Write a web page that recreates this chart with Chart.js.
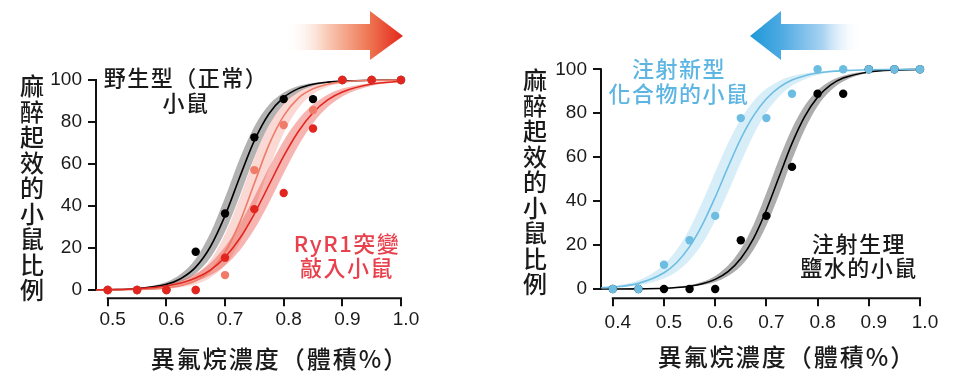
<!DOCTYPE html>
<html><head><meta charset="utf-8">
<script src="https://cdn.jsdelivr.net/npm/chart.js@4"></script>
<style>
html,body{margin:0;padding:0;background:#fff;}
#wrap{position:relative;width:970px;height:386px;overflow:hidden;background:#fff;}
canvas{position:absolute;top:0;}
.t{position:absolute;font-family:"Noto Sans CJK TC","Noto Sans CJK SC",sans-serif;font-weight:500;white-space:nowrap;}
.ytitle{font-size:24px;line-height:25.5px;width:24px;white-space:normal;word-break:break-all;color:#1a1a1a;}
.xtitle{font-size:24px;line-height:28px;letter-spacing:2px;color:#1a1a1a;transform:translateX(-50%);}
.ann{font-size:22px;line-height:24px;letter-spacing:1.5px;text-align:center;transform:translateX(-50%);}
svg{position:absolute;left:0;top:0;}
</style></head>
<body>
<div id="wrap">
<canvas id="left" width="485" height="386" style="left:0"></canvas>
<canvas id="right" width="485" height="386" style="left:485px"></canvas>
<svg width="970" height="386">
<defs>
<linearGradient id="gr" gradientUnits="userSpaceOnUse" x1="285" y1="0" x2="403" y2="0">
<stop offset="0" stop-color="#ffffff" stop-opacity="0"/>
<stop offset="0.35" stop-color="#f9cbb8"/>
<stop offset="0.72" stop-color="#ee7450"/>
<stop offset="1" stop-color="#e3261b"/>
</linearGradient>
<linearGradient id="gb" gradientUnits="userSpaceOnUse" x1="750" y1="0" x2="862" y2="0">
<stop offset="0" stop-color="#1e98d8"/>
<stop offset="0.28" stop-color="#4eaae2"/>
<stop offset="0.65" stop-color="#a9d3f1"/>
<stop offset="1" stop-color="#ffffff" stop-opacity="0"/>
</linearGradient>
</defs>
<polygon points="285,24 370,24 370,11 403,36 370,60 370,50 285,50" fill="url(#gr)"/>
<polygon points="862,24 781,24 781,11 750,36 781,60 781,50 862,50" fill="url(#gb)"/>
</svg>
<div class="t ytitle" style="left:20px;top:72px">麻醉起效的小鼠比例</div>
<div class="t ytitle" style="left:523px;top:66px">麻醉起效的小鼠比例</div>
<div class="t xtitle" style="left:280px;top:344px">異氟烷濃度（體積%）</div>
<div class="t xtitle" style="left:787px;top:342px">異氟烷濃度（體積%）</div>
<div class="t ann" style="left:186px;top:64px;line-height:25px;color:#1a1a1a">野生型（正常）<br>小鼠</div>
<div class="t ann" style="left:347px;top:231px;line-height:23.5px;color:#e8404c">RyR1突變<br>敲入小鼠</div>
<div class="t ann" style="left:679px;top:55px;line-height:25px;color:#5cb5e2">注射新型<br>化合物的小鼠</div>
<div class="t ann" style="left:859px;top:230px;line-height:24px;color:#1a1a1a">注射生理<br>鹽水的小鼠</div>
</div>
<script>
// ---------- Left panel data ----------
const leftDoses = [0.5, 0.55, 0.6, 0.65, 0.7, 0.75, 0.8, 0.85, 0.9, 0.95, 1.0];
const wildType = [0, 0, 0, 18.2, 36.4, 72.7, 90.9, 90.9, 100, 100, 100];
const ryr1Light = [0, 0, 0, 0, 7.1, 57.1, 78.6, 85.7, 100, 100, 100];
const ryr1Dark = [0, 0, 0, 0, 15.4, 38.5, 46.2, 76.9, 100, 100, 100];
const leftFitX = [0.48, 0.5, 0.55, 0.6, 0.625, 0.65, 0.675, 0.7, 0.725, 0.75, 0.775, 0.8, 0.825, 0.85, 0.875, 0.9, 0.95, 1.0];
const wtFit = [0.07, 0.14, 0.6, 2.7, 5.5, 10.9, 20.6, 35.4, 53.7, 71.1, 83.9, 91.7, 95.9, 98.0, 99.0, 99.5, 99.9, 100];
const wtHi = [0.11, 0.19, 0.87, 3.8, 7.7, 14.9, 27.1, 44, 62.5, 77.9, 88.2, 94.0, 97.1, 98.6, 99.3, 99.7, 99.9, 100];
const wtLo = [0.05, 0.09, 0.42, 1.9, 3.9, 7.9, 15.3, 27.7, 44.8, 63.2, 78.4, 88.5, 94.2, 97.2, 98.7, 99.4, 99.9, 100];
const lightFit = [0.02, 0.04, 0.21, 1.0, 2.1, 4.4, 9.2, 18, 32.2, 50.8, 69.2, 82.9, 91.4, 95.8, 98.0, 99.1, 99.8, 100];
const lightHi = [0.04, 0.07, 0.34, 1.6, 3.4, 7.1, 14.2, 26.5, 43.8, 62.9, 78.6, 88.9, 94.5, 97.4, 98.8, 99.5, 99.9, 100];
const lightLo = [0.01, 0.03, 0.13, 0.6, 1.3, 2.7, 5.8, 11.8, 22.4, 38.6, 57.7, 74.7, 86.5, 93.3, 96.8, 98.5, 99.7, 100];
const darkFit = [0.13, 0.2, 0.63, 1.9, 3.3, 5.7, 9.5, 15.6, 24.5, 36.3, 50, 63.7, 75.5, 84.4, 90.5, 94.3, 98.1, 99.4];
const darkHi = [0.18, 0.29, 0.88, 2.7, 4.6, 7.8, 12.9, 20.6, 31.3, 44.4, 58.4, 71.1, 81.2, 88.3, 93.0, 95.9, 98.6, 99.6];
const darkLo = [0.09, 0.15, 0.45, 1.4, 2.4, 4.1, 7.0, 11.7, 18.8, 28.9, 41.6, 55.6, 68.7, 79.4, 87.1, 92.2, 97.3, 99.1];
const leftXTicks = [0.5, 0.6, 0.7, 0.8, 0.9, 1.0];

// ---------- Right panel data ----------
const rightDoses = [0.4, 0.45, 0.5, 0.55, 0.6, 0.65, 0.7, 0.75, 0.8, 0.85, 0.9, 0.95, 1.0];
const compound = [0, 0, 11.1, 22.2, 33.3, 77.8, 77.8, 88.9, 100, 100, 100, 100, 100];
const saline = [0, 0, 0, 0, 0, 22.2, 33.3, 55.6, 88.9, 88.9, 100, 100, 100];
const rightFitX = [0.377, 0.4, 0.45, 0.5, 0.525, 0.55, 0.575, 0.6, 0.625, 0.65, 0.675, 0.7, 0.725, 0.75, 0.775, 0.8, 0.825, 0.85, 0.9, 0.95, 1.0];
const compFit = [0.57, 0.88, 2.6, 7.4, 12.1, 19.3, 29.3, 41.8, 55.5, 68.4, 78.9, 86.6, 91.8, 95.1, 97.1, 98.3, 99.0, 99.4, 99.8, 99.9, 100];
const compHi = [0.9, 1.4, 4.0, 11.2, 18, 27.5, 39.7, 53.3, 66.4, 77.4, 85.6, 91.1, 94.7, 96.9, 98.2, 98.9, 99.4, 99.6, 99.9, 100, 100];
const compLo = [0.36, 0.55, 1.6, 4.8, 8.0, 13.1, 20.7, 31.2, 44.0, 57.6, 70.2, 80.4, 87.6, 92.5, 95.5, 97.4, 98.5, 99.1, 99.7, 99.9, 100];
const salFit = [0.02, 0.03, 0.11, 0.38, 0.7, 1.3, 2.4, 4.4, 7.9, 13.9, 23.1, 36.0, 51.2, 66.3, 78.6, 87.3, 92.8, 96.0, 98.8, 99.7, 99.9];
const salHi = [0.03, 0.04, 0.15, 0.52, 1.0, 1.8, 3.3, 6.0, 10.7, 18.2, 29.4, 43.8, 59.3, 73.1, 83.5, 90.5, 94.7, 97.1, 99.1, 99.7, 99.9];
const salLo = [0.01, 0.02, 0.08, 0.27, 0.5, 0.95, 1.8, 3.2, 5.9, 10.4, 17.9, 28.9, 43.2, 58.7, 72.6, 83.2, 90.2, 94.5, 98.4, 99.5, 99.8];
const rightXTicks = [0.4, 0.5, 0.6, 0.7, 0.8, 0.9, 1.0];

const yTicks = [0, 20, 40, 60, 80, 100];

function pts(xs, ys) { return xs.map((x, i) => ({ x: x, y: ys[i] })); }

function pointSet(xs, ys, color, order) {
  return { data: pts(xs, ys), showLine: false, pointRadius: 4.2, pointBackgroundColor: color,
    pointBorderWidth: 0, borderColor: color, order: order, clip: false, fill: false };
}
function lineSet(xs, ys, color, order) {
  return { data: pts(xs, ys), borderColor: color, borderWidth: 1.6, pointRadius: 0,
    cubicInterpolationMode: 'monotone', order: order, clip: false, fill: false };
}
function bandSets(xs, hi, lo, color, order) {
  return [
    { data: pts(xs, hi), borderWidth: 0, borderColor: 'rgba(0,0,0,0)', pointRadius: 0,
      cubicInterpolationMode: 'monotone', order: order, fill: false, clip: false },
    { data: pts(xs, lo), borderWidth: 0, borderColor: 'rgba(0,0,0,0)', pointRadius: 0,
      cubicInterpolationMode: 'monotone', order: order, fill: '-1', backgroundColor: color, clip: false }
  ];
}

const axisLines = {
  id: 'axisLines',
  beforeDatasetsDraw(chart, args, opts) {
    const { ctx, scales: { x, y } } = chart;
    ctx.save();
    ctx.strokeStyle = '#111';
    ctx.lineWidth = 2;
    ctx.beginPath();
    ctx.moveTo(x.left, y.getPixelForValue(100) - 1);
    ctx.lineTo(x.left, y.getPixelForValue(0) + 1);
    ctx.moveTo(x.getPixelForValue(opts.xStart) - 1, y.bottom);
    ctx.lineTo(x.getPixelForValue(opts.xEnd) + 1, y.bottom);
    ctx.stroke();
    ctx.restore();
  }
};

function makeChart(id, datasets, xMin, xTicks, yMin, yWidth, pad, xPad) {
  return new Chart(document.getElementById(id), {
    type: 'line',
    data: { datasets: datasets },
    plugins: [axisLines],
    options: {
      responsive: false, animation: false, events: [], devicePixelRatio: 1,
      layout: { padding: pad },
      plugins: { legend: { display: false }, tooltip: { enabled: false },
        axisLines: { xStart: xTicks[0], xEnd: xTicks[xTicks.length - 1] } },
      scales: {
        x: {
          type: 'linear', min: xMin, max: 1.0,
          afterBuildTicks: s => { s.ticks = xTicks.map(v => ({ value: v })); },
          afterFit: s => { s.height = 40; },
          border: { display: false },
          grid: { drawOnChartArea: false, drawTicks: true, tickLength: 8, color: '#111', lineWidth: 2 },
          ticks: { autoSkip: false, maxRotation: 0, padding: xPad, labelOffset: 5, color: '#1a1a1a',
            font: { family: '"Liberation Sans", Arial, sans-serif', size: 19 },
            callback: v => Number(v).toFixed(1) }
        },
        y: {
          type: 'linear', min: yMin, max: 100,
          afterBuildTicks: s => { s.ticks = yTicks.map(v => ({ value: v })); },
          afterFit: s => { s.width = yWidth; },
          border: { display: false },
          grid: { drawOnChartArea: false, drawTicks: true, tickLength: 8, color: '#111', lineWidth: 2 },
          ticks: { padding: 6, color: '#1a1a1a',
            font: { family: '"Liberation Sans", Arial, sans-serif', size: 19 },
            callback: v => String(v) }
        }
      }
    }
  });
}

const leftSets = [
  pointSet(leftDoses, ryr1Dark, '#e2261f', 1),
  pointSet(leftDoses, ryr1Light, '#ef7b68', 2),
  pointSet(leftDoses, wildType, '#000000', 3),
  lineSet(leftFitX, darkFit, '#e2261f', 4),
  lineSet(leftFitX, lightFit, '#ef7b68', 5),
  lineSet(leftFitX, wtFit, '#000000', 6),
  ...bandSets(leftFitX, darkHi, darkLo, 'rgba(232,70,60,0.40)', 7),
  ...bandSets(leftFitX, lightHi, lightLo, 'rgba(240,135,120,0.32)', 8),
  ...bandSets(leftFitX, wtHi, wtLo, 'rgba(0,0,0,0.30)', 9)
];
makeChart('left', leftSets, 0.48, leftXTicks, -3.95, 96, { top: 80, right: 84, bottom: 47.7, left: 0 }, 2);

const rightSets = [
  pointSet(rightDoses, compound, '#6dbde3', 1),
  pointSet(rightDoses, saline, '#000000', 2),
  lineSet(rightFitX, compFit, '#6dbde3', 3),
  lineSet(rightFitX, salFit, '#000000', 4),
  ...bandSets(rightFitX, compHi, compLo, 'rgba(140,205,235,0.35)', 5),
  ...bandSets(rightFitX, salHi, salLo, 'rgba(0,0,0,0.32)', 6)
];
makeChart('right', rightSets, 0.377, rightXTicks, -4.2, 116, { top: 69.3, right: 50, bottom: 47.7, left: 0 }, 5);
</script>
</body></html>
